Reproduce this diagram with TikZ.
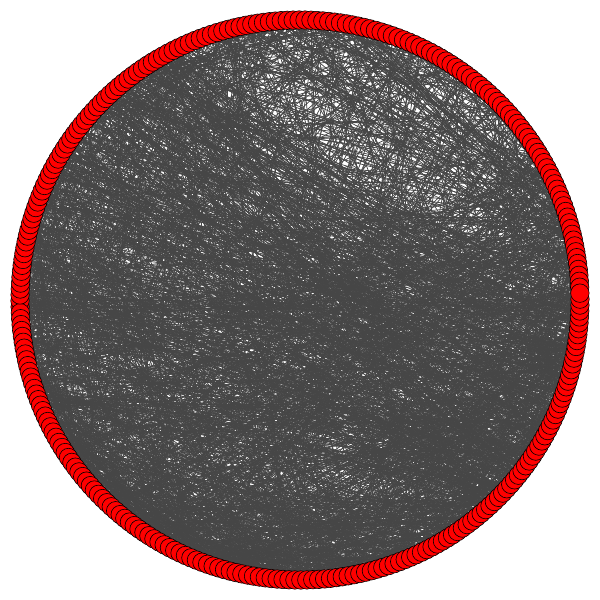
\documentclass[tikz,border=0pt]{standalone}
\usetikzlibrary{backgrounds}
\definecolor{edgegray}{RGB}{70,70,70}
\tikzset{
  vtx/.style={circle,fill=red,draw=black,line width=0.6pt,inner sep=0pt,minimum size=18.5pt},
  edge/.style={draw=edgegray,line width=0.75pt}
}
\begin{document}
\begin{tikzpicture}[x=1pt,y=1pt]
\useasboundingbox (0,0) rectangle (600,600);
\begin{scope}[shift={(300,300)}]
% nodes drawn from left to right
\foreach \k in {0,...,147}{
  \pgfmathtruncatemacro\ia{148+\k}
  \pgfmathtruncatemacro\ib{147-\k}
  \pgfmathsetmacro\tha{1.4+\ia*(360/296)}
  \pgfmathsetmacro\thb{1.4+\ib*(360/296)}
  \node[vtx] (v\ia) at (\tha:280) {};
  \ifnum\ib>0
    \node[vtx] (v\ib) at (\thb:280) {};
  \fi
}
\node[vtx] (v0) at (1.4:280) {};
\begin{pgfonlayer}{background}
\pgfmathsetseed{4242}
% uniform edges
\foreach \e in {1,...,950}{
  \pgfmathrandominteger{\ea}{0}{295}
  \pgfmathrandominteger{\eb}{0}{295}
  \draw[edge] (v\ea.center) -- (v\eb.center);
}
% bottom arc hub edges
\foreach \e in {1,...,450}{
  \pgfmathrandominteger{\ea}{170}{250}
  \pgfmathrandominteger{\eb}{0}{295}
  \draw[edge] (v\ea.center) -- (v\eb.center);
}
% lower-left dense arc
\foreach \e in {1,...,250}{
  \pgfmathrandominteger{\ea}{160}{215}
  \pgfmathrandominteger{\eb}{200}{290}
  \draw[edge] (v\ea.center) -- (v\eb.center);
}
% right-lower to upper-left edges
\foreach \e in {1,...,450}{
  \pgfmathrandominteger{\ea}{255}{295}
  \pgfmathrandominteger{\eb}{95}{165}
  \draw[edge] (v\ea.center) -- (v\eb.center);
}
% right side hub edges
\foreach \e in {1,...,150}{
  \pgfmathrandominteger{\ea}{0}{20}
  \pgfmathrandominteger{\eb}{60}{200}
  \draw[edge] (v\ea.center) -- (v\eb.center);
}
\end{pgfonlayer}
\end{scope}
\end{tikzpicture}
\end{document}
